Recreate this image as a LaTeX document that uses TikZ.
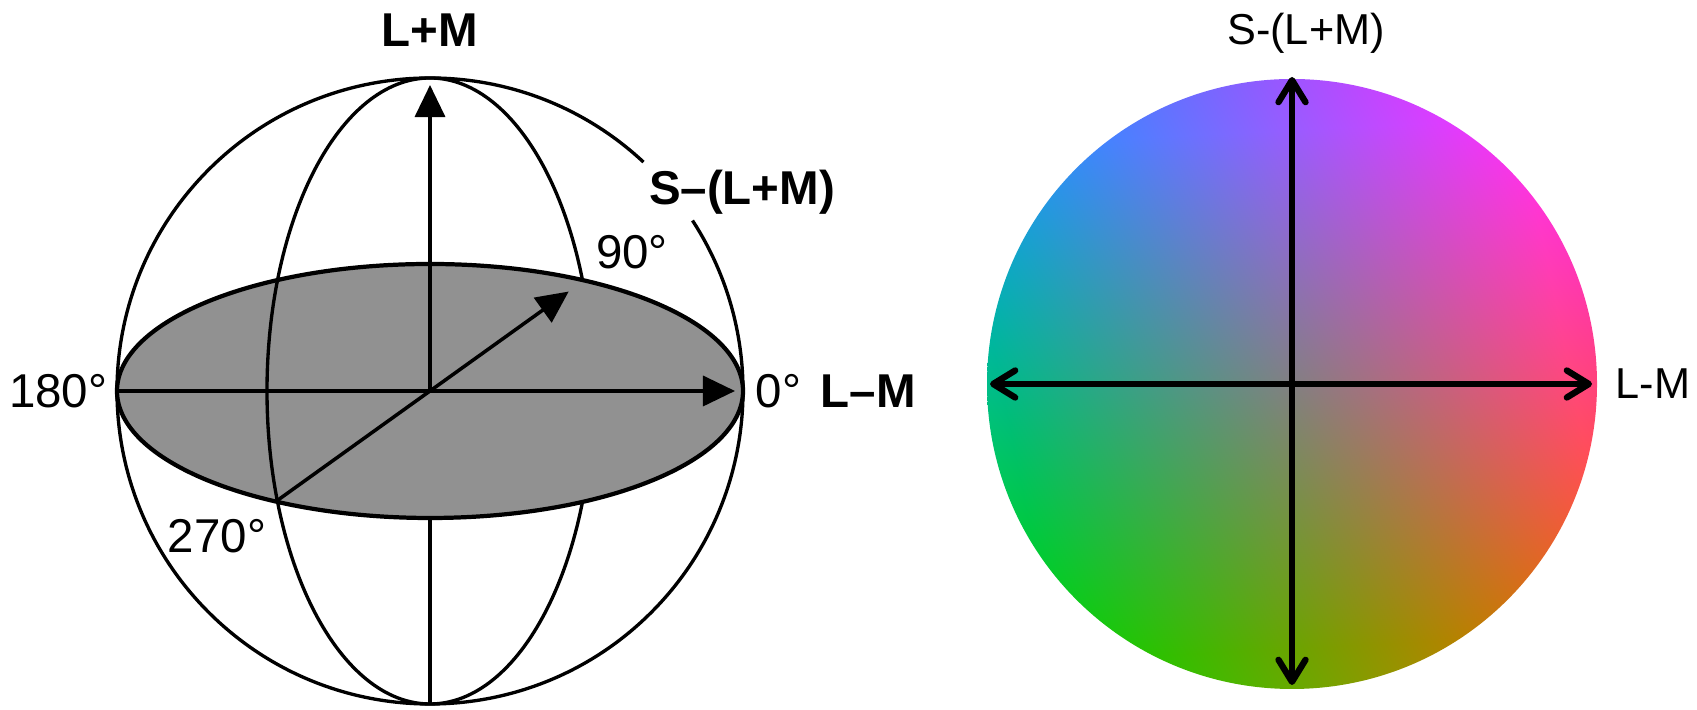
\documentclass[tikz,border=0pt]{standalone}
\usepackage{fontspec}
\setmainfont{Liberation Sans}
\usetikzlibrary{arrows.meta,calc}
\definecolor{discgray}{HTML}{919191}
\tikzstyle{sphere line} = [line width=0.95pt, black]
\tikzstyle{solid arrow} = [-{Triangle[length=0.32cm,width=0.30cm]}, line width=1pt, black]
\tikzstyle{open arrow} = [{Straight Barb[length=0.22cm,width=0.27cm,line cap=round,line join=round]}-{Straight Barb[length=0.22cm,width=0.27cm,line cap=round,line join=round]}, line width=1.8pt, black]
\tikzstyle{big label} = [font=\fontsize{13.5}{16}\selectfont, inner sep=0pt]
\tikzstyle{small label} = [font=\fontsize{12.3}{15}\selectfont, inner sep=0pt]
% colour plane: grey centre, L-M along x, S-(L+M) along y
\pgfdeclarefunctionalshading{dklplane}{\pgfpoint{0bp}{0bp}}{\pgfpoint{100bp}{100bp}}{}{
  50 sub 25 div exch 50 sub 25 div exch
  2 copy 0.108 mul exch 0.534 mul add 0.51 add
  3 1 roll
  2 copy -0.168 mul exch -0.24 mul add 0.5 add
  3 1 roll
  0.588 mul exch -0.03 mul add 0.51 add
}
\begin{document}
\begin{tikzpicture}[x=0.01cm,y=0.01cm]
\useasboundingbox (0,0) rectangle (1697,710);

% sphere
\coordinate (o) at (430,319);
\coordinate (north) at (430,632);
\coordinate (south) at (430,6);
\coordinate (ztip) at (430,625);
\coordinate (w180) at (117,319);
\coordinate (e0) at (735,319);
\coordinate (p270) at (275.9,208.5);
\coordinate (p90) at (584.1,429.5);

\draw[sphere line] (north) arc[start angle=90, end angle=-90, x radius=163, y radius=313];
\draw[sphere line] (o) -- (south);
\filldraw[fill=discgray, draw=black, line width=1.2pt] (o) ellipse[x radius=313, y radius=127];
\draw[sphere line] (north) arc[start angle=90, end angle=270, x radius=163, y radius=313];
\draw[sphere line] (o) ++(47:313) arc[start angle=47, end angle=393, radius=313];

\draw[solid arrow] (o) -- (ztip);
\draw[solid arrow] (w180) -- (e0);
\draw[solid arrow] (p270) -- ($(o)!0.9!(p90)$);

\node[big label, font=\fontsize{13.5}{16}\selectfont\bfseries] (lpm) at (430,680) {L+M};
\node[big label, font=\fontsize{13.5}{16}\selectfont\bfseries] (slm) at (742,518) {S–(L+M)};
\node[big label] (d90) at (632,458) {90°};
\node[big label, anchor=east] (d180) at (108,319) {180°};
\node[big label, anchor=west] (d0) at (755,319) {0°};
\node[big label, anchor=west, font=\fontsize{13.5}{16}\selectfont\bfseries] (lmm) at (820,319) {L–M};
\node[big label] (d270) at (217,174) {270°};

% colour plane
\coordinate (c) at (1292,326);
\coordinate (top) at (1292,633);
\coordinate (bot) at (1292,25);
\coordinate (left) at (990,326);
\coordinate (right) at (1592,326);
\shade[shading=dklplane] (c) circle[radius=305];
\draw[open arrow] (bot) -- (top);
\draw[open arrow] (left) -- (right);
\node[small label] (sy) at (1306,677) {S-(L+M)};
\node[small label, anchor=west] (lx) at (1615,326) {L-M};
\end{tikzpicture}
\end{document}
